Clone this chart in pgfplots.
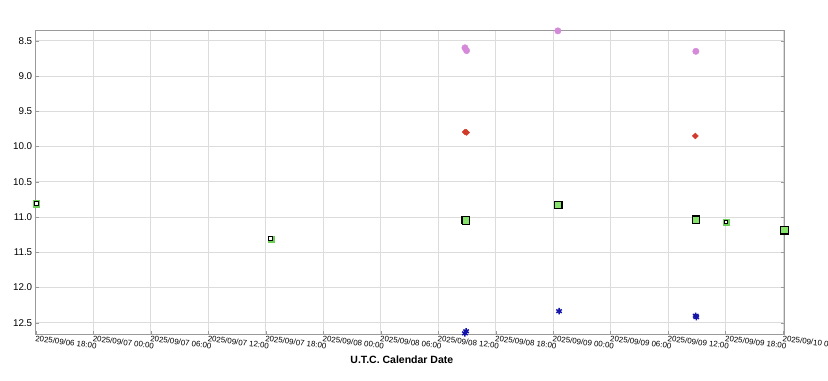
\documentclass[border=0pt]{standalone}
\usepackage{pgfplots}
\pgfplotsset{compat=1.18}
\usepackage{fontspec}
\setmainfont{Liberation Sans}
\definecolor{gfill}{HTML}{86E26A}
\definecolor{gring}{HTML}{6CCF58}
\definecolor{orch}{HTML}{D48AD8}
\definecolor{rdd}{HTML}{D23A2A}
\definecolor{bluu}{HTML}{1414A8}
\definecolor{gridc}{HTML}{DCDCDC}
\definecolor{axc}{HTML}{9A9A9A}
\begin{document}
\begin{tikzpicture}
\begin{axis}[
  scale only axis,
  width=748pt, height=304pt,
  xmin=0, xmax=78.1,
  ymin=8.352, ymax=12.665,
  y dir=reverse,
  clip=false,
  axis line style={axc, line width=0.8pt},
  grid=major,
  major grid style={gridc, line width=0.7pt},
  tick style={axc},
  major tick length=3pt,
  xtick={0,6,...,78},
  xticklabels={2025/09/06 18:00,2025/09/07 00:00,2025/09/07 06:00,2025/09/07 12:00,2025/09/07 18:00,2025/09/08 00:00,2025/09/08 06:00,2025/09/08 12:00,2025/09/08 18:00,2025/09/09 00:00,2025/09/09 06:00,2025/09/09 12:00,2025/09/09 18:00,2025/09/10 00:00},
  xticklabel style={font=\fontsize{7.9}{9}\selectfont, rotate=-7, anchor=north west, inner sep=1pt, xshift=-1pt},
  ytick={8.5,9,...,12.5},
  yticklabel style={font=\fontsize{9.8}{10}\selectfont, /pgf/number format/fixed, /pgf/number format/fixed zerofill, /pgf/number format/precision=1},
  /pgf/number format/assume math mode=true,
  xtick pos=bottom,
  ytick pos=both,
  xlabel={\textbf{U.T.C. Calendar Date}},
  xlabel style={font=\fontsize{10.5}{12}\selectfont, yshift=-2pt, xshift=-8pt},
]
% purple circles
\addplot[only marks, mark=*, mark size=3.2pt, color=orch, mark options={fill=orch, draw=orch}] coordinates {
(44.80,8.600) (44.97,8.640) (54.50,8.360) (68.90,8.650)};
% red diamonds
\addplot[only marks, mark=diamond*, mark size=3.0pt, color=rdd, mark options={fill=rdd, draw=rdd, xscale=1.35}] coordinates {
(44.82,9.795) (44.97,9.800) (68.85,9.850)};
% blue stars
\addplot[only marks, mark=asterisk, mark size=3.2pt, color=bluu, mark options={line width=1.5pt}] coordinates {
(44.80,12.650) (44.92,12.620) (54.62,12.335) (68.88,12.400) (68.95,12.420)};
% big green squares
\addplot[only marks, mark=square*, mark size=3.6pt, mark options={fill=gfill, draw=black, line width=1.1pt}] coordinates {
(44.87,11.040) (44.92,11.050) (54.55,10.830) (68.88,11.025) (68.95,11.045) (78.15,11.190)};
% small open squares with green ring
\addplot[only marks, mark=square*, mark size=3.1pt, mark options={fill=gring, draw=gring}] coordinates {
(0.05,10.810) (24.54,11.310) (72.05,11.070)};
\addplot[only marks, mark=square*, mark size=1.9pt, mark options={fill=white, draw=black, line width=1.0pt}] coordinates {
(0.05,10.810) (24.54,11.310) (72.05,11.070)};
\end{axis}
\pgfresetboundingbox
\path[use as bounding box] ([xshift=-35.7pt,yshift=-46pt]current axis.south west) rectangle ([xshift=44pt,yshift=30.3pt]current axis.north east);
\end{tikzpicture}
\end{document}
